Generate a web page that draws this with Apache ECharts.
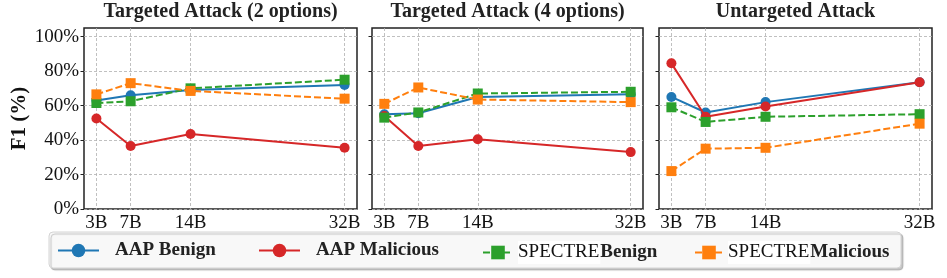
<!DOCTYPE html>
<html>
<head>
<meta charset="utf-8">
<script src="https://cdn.jsdelivr.net/npm/echarts@6/dist/echarts.min.js"></script>
<style>html,body{margin:0;padding:0;background:#fff}#c{width:947px;height:278px}</style>
</head>
<body>
<div id="c"></div>
<script>
// ---- data ----
const modelSizes = [3, 7, 14, 32];
const sizeLabels = ['3B', '7B', '14B', '32B'];
const yTicks = [0, 20, 40, 60, 80, 100];
const panelTitles = ['Targeted Attack (2 options)', 'Targeted Attack (4 options)', 'Untargeted Attack'];
const seriesNames = ['AAP Benign', 'AAP Malicious', 'SPECTRE Benign', 'SPECTRE Malicious'];

const ta2AapBenign = [63, 66, 69, 72];
const ta2AapMalicious = [52.5, 36.5, 43.5, 35.5];
const ta2SpectreBenign = [61.5, 62.5, 70, 75];
const ta2SpectreMalicious = [66.5, 73, 68.5, 64];

const ta4AapBenign = [55, 55.5, 65, 66.5];
const ta4AapMalicious = [54, 36.5, 40.5, 33];
const ta4SpectreBenign = [53, 56, 67, 68];
const ta4SpectreMalicious = [61, 70.5, 63.5, 62];

const unAapBenign = [65, 56, 62, 73.5];
const unAapMalicious = [84.5, 53.5, 59.5, 73.5];
const unSpectreBenign = [59, 50.5, 53.5, 55];
const unSpectreMalicious = [22, 35, 35.5, 49.5];

const panels = [
  [ta2AapBenign, ta2AapMalicious, ta2SpectreBenign, ta2SpectreMalicious],
  [ta4AapBenign, ta4AapMalicious, ta4SpectreBenign, ta4SpectreMalicious],
  [unAapBenign, unAapMalicious, unSpectreBenign, unSpectreMalicious]
];

// ---- styles ----
const FONT = 'Liberation Serif';
const colors = ['#1f77b4', '#d62728', '#2ca02c', '#ff7f0e'];
const symbols = ['circle', 'circle', 'rect', 'rect'];
const dashed = [false, false, true, true];
const grids = [
  { left: 84, width: 273, top: 28, height: 181 },
  { left: 372, width: 271, top: 28, height: 181 },
  { left: 659, width: 273, top: 28, height: 181 }
];

const option = {
  animation: false,
  backgroundColor: '#fff',
  textStyle: { fontFamily: FONT },
  grid: grids.map(g => Object.assign({ show: true, borderColor: '#222', borderWidth: 1.5, backgroundColor: 'transparent' }, g)),
  title: panelTitles.map((t, i) => ({
    text: t,
    left: grids[i].left + grids[i].width / 2,
    top: 2,
    textAlign: 'center',
    padding: 0,
    textStyle: { fontFamily: FONT, fontWeight: 'bold', fontSize: 20, color: '#222' }
  })),
  xAxis: grids.map((g, i) => ({
    type: 'value', gridIndex: i, min: 1.55, max: 33.45,
    axisLine: { show: false },
    axisTick: { show: false, customValues: modelSizes },
    axisLabel: {
      customValues: modelSizes, margin: 5,
      fontFamily: FONT, fontSize: 19, color: '#111',
      formatter: v => sizeLabels[modelSizes.indexOf(v)] || ''
    },
    splitLine: { show: true, lineStyle: { color: '#b0b0b0', width: 0.8, type: [3, 2] } }
  })),
  yAxis: grids.map((g, i) => ({
    type: 'value', gridIndex: i, min: 0, max: 105,
    name: i === 0 ? 'F1 (%)' : '',
    nameLocation: 'middle', nameGap: 54,
    nameTextStyle: { fontFamily: FONT, fontWeight: 'bold', fontSize: 21, color: '#111' },
    axisLine: { show: false },
    axisTick: { show: true, inside: false, length: 3.5, customValues: yTicks, lineStyle: { color: '#222', width: 1 } },
    axisLabel: {
      show: i === 0, customValues: yTicks, margin: 5,
      fontFamily: FONT, fontSize: 19, color: '#111',
      formatter: v => v + '%'
    },
    splitLine: { show: true, lineStyle: { color: '#b0b0b0', width: 0.8, type: [3, 2] } }
  })),
  series: [],
  legend: [],
  graphic: [{
    type: 'rect', shape: { x: 49, y: 232, width: 852, height: 36, r: 4 },
    style: { fill: '#f8f8f8', stroke: '#d4d4d4', lineWidth: 1, shadowColor: 'rgba(0,0,0,0.22)', shadowOffsetX: 2, shadowOffsetY: 2, shadowBlur: 1 },
    z: -1
  }]
};

panels.forEach((vals, p) => {
  vals.forEach((arr, s) => {
    option.series.push({
      type: 'line', name: seriesNames[s], xAxisIndex: p, yAxisIndex: p,
      data: modelSizes.map((x, k) => [x, arr[k]]),
      symbol: symbols[s], symbolSize: 10,
      itemStyle: { color: colors[s] },
      lineStyle: { color: colors[s], width: 2, type: dashed[s] ? [7, 3] : 'solid' },
      z: 2 + s
    });
  });
});

const legendPos = [
  { left: 57, itemWidth: 41, pad: 11 },
  { left: 258, itemWidth: 41, pad: 11 },
  { left: 482, itemWidth: 30, pad: 0 },
  { left: 694, itemWidth: 28, pad: 0 }
];
seriesNames.forEach((n, i) => {
  option.legend.push({
    data: [n], left: legendPos[i].left, top: 241, padding: 0,
    itemWidth: legendPos[i].itemWidth, itemHeight: 17,
    selectedMode: false,
    formatter: name => {
      if (name.indexOf('SPECTRE') === 0) return '{s|SPECTRE}{b|' + name.slice(8) + '}';
      return '{b|' + name + '}';
    },
    textStyle: {
      fontFamily: FONT, fontSize: 19, fontWeight: 'bold', color: '#222',
      rich: {
        s: { fontFamily: FONT, fontSize: 19, fontWeight: 'normal', color: '#111', backgroundColor: '#fff', padding: [2, 1, 2, 0] },
        b: { fontFamily: FONT, fontSize: 19, fontWeight: 'bold', color: '#222', padding: [0, 0, 0, legendPos[i].pad] }
      }
    }
  });
});

const chart = echarts.init(document.getElementById('c'), null, { renderer: 'canvas' });
chart.setOption(option);
</script>
</body>
</html>
